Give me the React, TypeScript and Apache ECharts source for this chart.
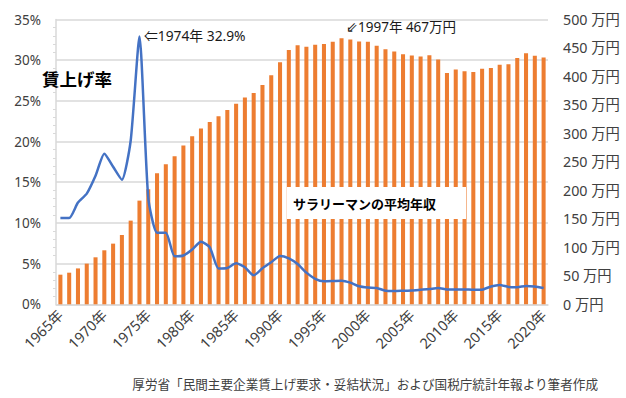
import React, { useEffect, useRef } from "react";
import * as echarts from "echarts";

const years: string[] = [];
for (let y = 1965; y <= 2020; y++) years.push(y + "年");

// 賃上げ率 (%)
const wageRate = [
  10.6, 10.6, 12.5, 13.6, 15.8, 18.5, 16.9, 15.3, 20.1, 32.9,
  13.1, 8.8, 8.8, 5.9, 6.0, 6.74, 7.68, 7.01, 4.4, 4.46,
  5.03, 4.55, 3.56, 4.43, 5.17, 5.94, 5.65, 4.95, 3.89, 3.13,
  2.83, 2.86, 2.9, 2.66, 2.21, 2.06, 2.01, 1.66, 1.63, 1.67,
  1.71, 1.79, 1.87, 1.99, 1.83, 1.82, 1.83, 1.78, 1.8, 2.19,
  2.38, 2.14, 2.11, 2.26, 2.18, 2.0,
];

// サラリーマンの平均年収 (万円)
const avgIncome = [
  52, 55.5, 63, 71.4, 82.5, 94.8, 106.5, 121.7, 146.9, 182,
  202, 230, 246, 260, 279, 295, 308.5, 320, 330, 341,
  352, 363, 371, 385, 402, 425, 446.6, 455, 452.2, 455.6,
  457.2, 460.8, 467.3, 464.8, 461.3, 461, 454, 447.8, 443.9, 438.8,
  436.8, 434.9, 437.2, 429.6, 405.9, 412, 409, 408, 413.6, 415,
  420.4, 421.6, 432.2, 440.7, 436.4, 433.1,
];

const FONT = "'Noto Sans', 'Noto Sans CJK JP', sans-serif";
const TEXT = "#404040";
const GRID = "#d9d9d9";

export default function App() {
  const ref = useRef<HTMLDivElement>(null);
  useEffect(() => {
    if (!ref.current) return;
    const chart = echarts.init(ref.current, undefined, { renderer: "svg" });
    chart.setOption({
      animation: false,
      backgroundColor: "#ffffff",
      textStyle: { fontFamily: FONT },
      grid: { left: 56, right: 78, top: 19.5, bottom: 93.7, containLabel: false },
      xAxis: {
        type: "category",
        data: years,
        boundaryGap: true,
        axisLine: { show: true, lineStyle: { color: GRID, width: 1.5 } },
        axisTick: { show: false },
        axisLabel: {
          interval: 4,
          rotate: 45,
          margin: 8,
          fontSize: 14.5,
          color: TEXT,
          fontFamily: FONT,
        },
      },
      yAxis: [
        {
          type: "value",
          min: 0,
          max: 35,
          interval: 5,
          position: "left",
          axisLine: { show: true, lineStyle: { color: GRID, width: 1.5 } },
          axisTick: { show: false },
          minorTick: { show: true, splitNumber: 5, length: 3, lineStyle: { color: GRID } },
          splitLine: { show: true, lineStyle: { color: GRID, width: 1.5 } },
          axisLabel: { formatter: "{value}%", fontSize: 13.5, color: TEXT, margin: 15, fontFamily: FONT },
        },
        {
          type: "value",
          min: 0,
          max: 500,
          interval: 50,
          position: "right",
          axisLine: { show: false },
          axisTick: { show: false },
          splitLine: { show: false },
          axisLabel: { formatter: "{value} 万円", fontSize: 14.3, color: TEXT, margin: 15, fontFamily: FONT },
        },
      ],
      series: [
        {
          type: "bar",
          yAxisIndex: 1,
          data: avgIncome,
          barWidth: "46%",
          itemStyle: { color: "#ED7D31" },
          z: 2,
        },
        {
          type: "line",
          yAxisIndex: 0,
          data: wageRate,
          showSymbol: false,
          smooth: 0.2,
          lineStyle: { color: "#4472C4", width: 2.5 },
          itemStyle: { color: "#4472C4" },
          z: 3,
        },
      ],
      graphic: [
        {
          type: "rect",
          shape: { x: 287, y: 187, width: 179, height: 32 },
          style: { fill: "#ffffff" },
          z: 10,
        },
        {
          type: "text",
          x: 293,
          y: 204,
          style: {
            text: "サラリーマンの平均年収",
            font: "bold 13px " + FONT,
            fill: "#000000",
            textVerticalAlign: "middle",
          },
          z: 11,
        },
        {
          type: "text",
          x: 42,
          y: 79,
          style: {
            text: "賃上げ率",
            font: "bold 17.5px " + FONT,
            fill: "#000000",
            textVerticalAlign: "middle",
          },
          z: 11,
        },
        {
          type: "text",
          x: 144,
          y: 35,
          style: {
            text: "⇐1974年 32.9%",
            font: "13.8px " + FONT,
            fill: "#1a1a1a",
            textVerticalAlign: "middle",
          },
          z: 11,
        },
        {
          type: "text",
          x: 346,
          y: 27,
          style: {
            text: "⇙1997年 467万円",
            font: "13.5px " + FONT,
            fill: "#1a1a1a",
            textVerticalAlign: "middle",
          },
          z: 11,
        },
        {
          type: "text",
          x: 598,
          y: 384,
          style: {
            text: "厚労省「民間主要企業賃上げ要求・妥結状況」および国税庁統計年報より筆者作成",
            font: "12.6px " + FONT,
            fill: TEXT,
            textAlign: "right",
            textVerticalAlign: "middle",
          },
          z: 11,
        },
      ],
    });
    return () => chart.dispose();
  }, []);
  return (
    <div
      ref={ref}
      style={{ position: "fixed", left: 0, top: 0, width: 626, height: 398 }}
    />
  );
}
